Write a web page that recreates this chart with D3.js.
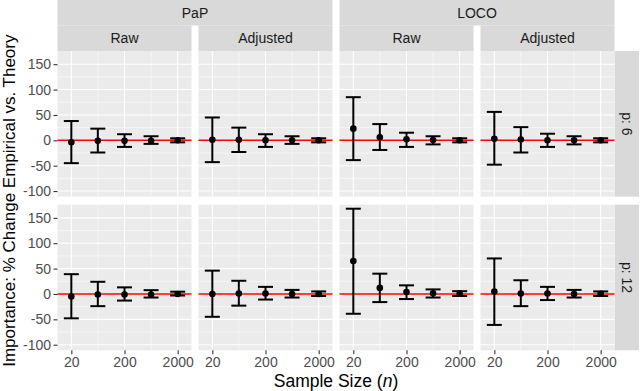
<html>

<head>
    <meta charset="utf-8">
    <title>Importance: % change empirical vs. theory</title>
    <script src="https://d3js.org/d3.v7.min.js"></script>
    <style>
        body { margin: 0; background: #ffffff; }
        text { font-family: "Liberation Sans", Arial, Helvetica, sans-serif; }
    </style>
</head>

<body>
    <div id="chart"></div>
    <script type="text/javascript">
    // facet labels
    var methods = ["PaP", "LOCO"];
    var types = ["Raw", "Adjusted"];
    var pLabels = ["p: 6", "p: 12"];

    // x values (sample size) and ticks
    var sampleSizes = [20, 63, 200, 632, 2000];
    var xTickValues = [20, 200, 2000];
    var yTickValues = [-100, -50, 0, 50, 100, 150];

    // one row per panel, in order: PaP Raw, PaP Adjusted, LOCO Raw, LOCO Adjusted
    var meanP6 = [
        [-4, -1, -1, -1, 0],
        [1, 1, 0, 0, 0],
        [23, 6, 2, 0.5, 0],
        [3, 1.5, 0, 0, 0]
    ];
    var lowerP6 = [
        [-45, -24, -13, -7, -4],
        [-43, -23, -13, -7, -4],
        [-39, -19, -13, -8, -4],
        [-48, -24, -13, -8, -4]
    ];
    var upperP6 = [
        [38, 23, 12, 8, 4],
        [45, 25, 12, 8, 4],
        [85, 32, 15, 8, 4],
        [56, 26, 13, 8, 4]
    ];

    var meanP12 = [
        [-5, -1, -1, -1, 0],
        [0, 1, 1, 0, 0],
        [65, 12, 4, 1.5, 1],
        [5, 1, 1, 0, 0.5]
    ];
    var lowerP12 = [
        [-48, -24, -13, -7, -3],
        [-45, -23, -11, -7, -4],
        [-39, -16, -10, -7, -4],
        [-61, -24, -12, -7, -4]
    ];
    var upperP12 = [
        [39, 24, 13, 7.5, 4.5],
        [46, 26, 14, 8, 5],
        [168, 40, 17, 9, 5.5],
        [70, 27, 14, 8, 5]
    ];

    var rowMeans = [meanP6, meanP12],
        rowLowers = [lowerP6, lowerP12],
        rowUppers = [upperP6, upperP12];

    var width = 640, height = 391;
    var plotLeft = 57.5, plotRight = 614.5, plotTop = 51, plotBottom = 350.3;
    var gapX = 7, gapY = 8;
    var panelW = (plotRight - plotLeft - 3 * gapX) / 4,
        panelH = (plotBottom - plotTop - gapY) / 2;
    var stripMid = 25.5, stripRightW = 24.5;

    var svg = d3.select("#chart").append("svg")
        .attr("width", width)
        .attr("height", height);

    // x: log scale, extra space on both sides like the reference
    var padDec = 0.26;
    var xScale = d3.scaleLog()
        .domain([20 / Math.pow(10, padDec), 2000 * Math.pow(10, padDec)])
        .range([0, panelW]);
    var yScale = d3.scaleLinear()
        .domain([-111, 176])
        .range([panelH, 0]);

    var xMinor = [];
    for (var i = 0; i < xTickValues.length - 1; i++) {
        xMinor.push(Math.sqrt(xTickValues[i] * xTickValues[i + 1]));
    }
    var yMinor = [];
    for (var i = 0; i < yTickValues.length - 1; i++) {
        yMinor.push((yTickValues[i] + yTickValues[i + 1]) / 2);
    }

    function colX(c) { return plotLeft + c * (panelW + gapX); }
    function rowY(r) { return plotTop + r * (panelH + gapY); }

    // outer strips (method) spanning two columns
    methods.forEach(function(m, mi) {
        var x0 = colX(mi * 2), x1 = colX(mi * 2 + 1) + panelW;
        svg.append("rect")
            .attr("x", x0).attr("y", 0)
            .attr("width", x1 - x0).attr("height", stripMid)
            .attr("fill", "#d9d9d9");
        svg.append("text")
            .attr("x", (x0 + x1) / 2).attr("y", 17.5)
            .attr("text-anchor", "middle")
            .attr("font-size", 14)
            .attr("fill", "#1a1a1a")
            .text(m);
    });

    // inner strips (Raw / Adjusted)
    for (var c = 0; c < 4; c++) {
        svg.append("rect")
            .attr("x", colX(c)).attr("y", stripMid)
            .attr("width", panelW).attr("height", plotTop - stripMid)
            .attr("fill", "#d9d9d9");
        svg.append("text")
            .attr("x", colX(c) + panelW / 2).attr("y", 43.3)
            .attr("text-anchor", "middle")
            .attr("font-size", 14)
            .attr("fill", "#1a1a1a")
            .text(types[c % 2]);
    }

    // right strips (p)
    pLabels.forEach(function(p, r) {
        svg.append("rect")
            .attr("x", plotRight).attr("y", rowY(r))
            .attr("width", stripRightW).attr("height", panelH)
            .attr("fill", "#d9d9d9");
        var cx = plotRight + stripRightW / 2, cy = rowY(r) + panelH / 2;
        svg.append("text")
            .attr("transform", "translate(" + cx + "," + cy + ") rotate(90)")
            .attr("text-anchor", "middle")
            .attr("dy", "0.35em")
            .attr("font-size", 14)
            .attr("fill", "#1a1a1a")
            .text(p);
    });

    // panels
    for (var r = 0; r < 2; r++) {
        for (var c = 0; c < 4; c++) {
            var g = svg.append("g")
                .attr("transform", "translate(" + colX(c) + "," + rowY(r) + ")");

            g.append("rect")
                .attr("width", panelW).attr("height", panelH)
                .attr("fill", "#ebebeb");

            // minor grid
            g.selectAll(".hminor").data(yMinor).enter().append("line")
                .attr("x1", 0).attr("x2", panelW)
                .attr("y1", function(d) { return yScale(d); })
                .attr("y2", function(d) { return yScale(d); })
                .attr("stroke", "#ffffff").attr("stroke-width", 0.55);
            g.selectAll(".vminor").data(xMinor).enter().append("line")
                .attr("y1", 0).attr("y2", panelH)
                .attr("x1", function(d) { return xScale(d); })
                .attr("x2", function(d) { return xScale(d); })
                .attr("stroke", "#ffffff").attr("stroke-width", 0.55);
            // major grid
            g.selectAll(".hmajor").data(yTickValues).enter().append("line")
                .attr("x1", 0).attr("x2", panelW)
                .attr("y1", function(d) { return yScale(d); })
                .attr("y2", function(d) { return yScale(d); })
                .attr("stroke", "#ffffff").attr("stroke-width", 1.1);
            g.selectAll(".vmajor").data(xTickValues).enter().append("line")
                .attr("y1", 0).attr("y2", panelH)
                .attr("x1", function(d) { return xScale(d); })
                .attr("x2", function(d) { return xScale(d); })
                .attr("stroke", "#ffffff").attr("stroke-width", 1.1);

            // reference line at zero
            g.append("line")
                .attr("x1", 0).attr("x2", panelW)
                .attr("y1", yScale(0)).attr("y2", yScale(0))
                .attr("stroke", "#ff0000").attr("stroke-width", 1.4);

            var rows = sampleSizes.map(function(n, k) {
                return { n: n, mean: rowMeans[r][c][k], lo: rowLowers[r][c][k], hi: rowUppers[r][c][k] };
            });

            var capW = 7.5;
            var bars = g.selectAll(".bar").data(rows).enter().append("g")
                .attr("stroke", "#000000").attr("stroke-width", 2);
            bars.append("line")
                .attr("x1", function(d) { return xScale(d.n); })
                .attr("x2", function(d) { return xScale(d.n); })
                .attr("y1", function(d) { return yScale(d.lo); })
                .attr("y2", function(d) { return yScale(d.hi); });
            bars.append("line")
                .attr("x1", function(d) { return xScale(d.n) - capW; })
                .attr("x2", function(d) { return xScale(d.n) + capW; })
                .attr("y1", function(d) { return yScale(d.hi); })
                .attr("y2", function(d) { return yScale(d.hi); });
            bars.append("line")
                .attr("x1", function(d) { return xScale(d.n) - capW; })
                .attr("x2", function(d) { return xScale(d.n) + capW; })
                .attr("y1", function(d) { return yScale(d.lo); })
                .attr("y2", function(d) { return yScale(d.lo); });

            g.selectAll(".dot").data(rows).enter().append("circle")
                .attr("cx", function(d) { return xScale(d.n); })
                .attr("cy", function(d) { return yScale(d.mean); })
                .attr("r", 3.3)
                .attr("fill", "#000000");

            // y axis on first column
            if (c == 0) {
                var ya = g.append("g")
                    .call(d3.axisLeft(yScale).tickValues(yTickValues)
                        .tickFormat(function(d) { return String(d); })
                        .tickSize(4).tickPadding(2.5));
                ya.select(".domain").remove();
                ya.selectAll("line").attr("stroke", "#333333").attr("stroke-width", 1.1);
                ya.selectAll("text").attr("font-size", 14).attr("fill", "#4d4d4d")
                    .attr("font-family", null);
            }
            // x axis on bottom row
            if (r == 1) {
                var xa = g.append("g")
                    .attr("transform", "translate(0," + panelH + ")")
                    .call(d3.axisBottom(xScale).tickValues(xTickValues)
                        .tickFormat(function(d) { return String(d); })
                        .tickSize(4).tickPadding(3));
                xa.select(".domain").remove();
                xa.selectAll("line").attr("stroke", "#333333").attr("stroke-width", 1.1);
                xa.selectAll("text").attr("font-size", 14).attr("fill", "#4d4d4d")
                    .attr("font-family", null);
            }
        }
    }

    // axis titles
    var xTitle = svg.append("text")
        .attr("x", (plotLeft + plotRight) / 2).attr("y", 386.5)
        .attr("text-anchor", "middle")
        .attr("font-size", 17.5)
        .attr("fill", "#000000");
    xTitle.append("tspan").text("Sample Size (");
    xTitle.append("tspan").attr("font-style", "italic").text("n");
    xTitle.append("tspan").text(")");

    svg.append("text")
        .attr("transform", "translate(14.5," + (plotTop + plotBottom) / 2 + ") rotate(-90)")
        .attr("text-anchor", "middle")
        .attr("font-size", 17)
        .attr("fill", "#000000")
        .text("Importance: % Change Empirical vs. Theory");
    </script>
</body>

</html>
